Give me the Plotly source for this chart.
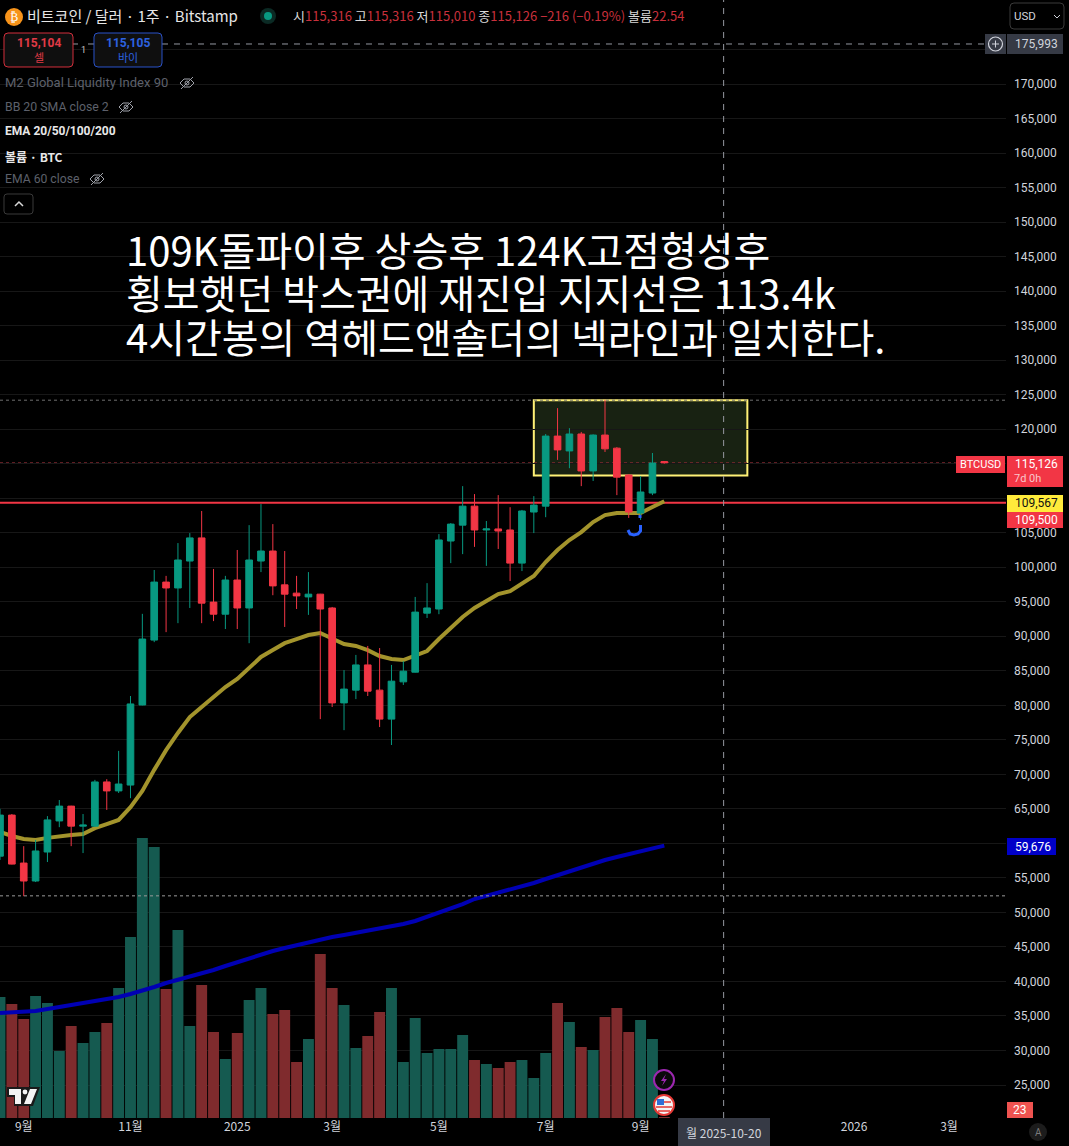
import pandas as pd
import plotly.graph_objects as go

W, H = 1069, 1146
PLOT_RIGHT, PLOT_BOTTOM = 1006, 1118

# weekly candles
dates = pd.date_range('2024-08-19', periods=57, freq='7D')
opens = [58150, 64100, 57150, 54550, 58750, 63250, 65400, 62500, 62500, 68900,
         67600, 68450, 80050, 89450, 97850, 97000, 100900, 104250, 94950, 93200,
         98150, 94100, 100900, 102350, 97450, 96250, 95700, 96100, 94100, 80350,
         82200, 85850, 82200, 78000, 83400, 84800, 93350, 93950, 103800, 106100,
         108850, 105400, 105550, 105400, 100600, 108000, 108850, 119000, 116850, 119300,
         113950, 119150, 117250, 113350, 107850, 110750, 115316]
highs = [65000, 64250, 59600, 60500, 63950, 66280, 65450, 64250, 69200, 69300,
         73400, 81350, 93250, 99600, 98750, 103500, 104950, 108150, 99750, 98750,
         102500, 106100, 109150, 106250, 102350, 98750, 99300, 96150, 94250, 85100,
         87300, 88600, 88300, 85850, 86400, 95700, 97700, 104800, 106400, 111750,
         110600, 106700, 110450, 108700, 108300, 110300, 119300, 123050, 120150, 119600,
         119250, 124250, 117400, 113500, 113200, 116550, 115316]
lows = [57600, 56950, 52350, 54400, 57300, 62350, 59600, 58600, 62400, 64850,
        67300, 66550, 80000, 89150, 90600, 91900, 94100, 91900, 92200, 91050,
        91050, 89000, 99300, 95950, 91350, 93950, 93100, 78000, 79750, 76400,
        80900, 81350, 76850, 74250, 82950, 84750, 92650, 93200, 100600, 101900,
        102950, 100200, 102650, 98000, 99450, 104950, 107250, 115550, 114350, 111750,
        112500, 116700, 110450, 107150, 106850, 110450, 115010]
closes = [64100, 57000, 54550, 58900, 63400, 65400, 62500, 62650, 68900, 67600,
          68600, 80200, 89600, 97850, 97000, 101050, 104250, 94800, 93200, 98150,
          94100, 101050, 102350, 97300, 96100, 95850, 96100, 93950, 80350, 82350,
          85850, 82050, 78000, 83500, 84950, 93500, 94100, 103950, 106250, 108850,
          105400, 105550, 105250, 100600, 108150, 109000, 119000, 117000, 119300, 113950,
          119150, 117150, 113050, 108000, 110900, 115100, 115126]
volumes = [7260, 6840, 5940, 7320, 6900, 4020, 5520, 4500, 5160, 5700,
           7800, 10860, 16800, 16260, 7740, 11280, 5520, 7980, 5160, 3540,
           5100, 7080, 7800, 6240, 6480, 3360, 4740, 9840, 7800, 6780,
           4200, 4920, 6360, 7800, 3360, 6000, 3900, 4140, 4140, 4980,
           3480, 3240, 3000, 3360, 3480, 2400, 3900, 6900, 5760, 4260,
           4080, 6060, 6600, 5160, 5880, 4740, 22.54]
ema_gold = [61650, 61070, 60650, 60500, 60800, 61070, 61210, 61355, 62200, 62800,
            63400, 65250, 67600, 70650, 73500, 76000, 78300, 79750, 81200, 82650,
            83810, 85400, 87000, 88000, 89000, 89600, 90180, 90470, 89750, 88880,
            88600, 88000, 87140, 86700, 86560, 87140, 87865, 89600, 91200, 92800,
            94100, 95110, 96120, 96550, 97700, 98730, 100760, 102500, 103950, 105100,
            106550, 107550, 107850, 107850, 107850, 108725, 109567]
ema_blue = [35430, 35570, 35720, 35720, 36010, 36300, 36590, 36875, 37165, 37450,
            37745, 38180, 38615, 39195, 39775, 40210, 40645, 41080, 41660, 42240,
            42820, 43400, 43835, 44415, 44850, 45285, 45720, 46155, 46445, 46730,
            47020, 47310, 47600, 47890, 48325, 48760, 49340, 49920, 50640, 51215,
            51940, 52375, 52810, 53390, 53825, 54260, 54840, 55420, 56000, 56580,
            57150, 57590, 58025, 58460, 58895, 59330, 59676]

price_ticks = list(range(25000, 180000, 5000))
hidden_ticks = [60000, 110000, 115000, 175000]  # sit under the price tags
price_text = [f'{p:,}' if p not in hidden_ticks else '' for p in price_ticks]
date_ticks = ['2024-09-02', '2024-11-04', '2025-01-06', '2025-03-03', '2025-05-05',
              '2025-07-07', '2025-09-01', '2026-01-05', '2026-03-02']
date_text = ['9월', '11월', '2025', '3월', '5월', '7월', '9월', '2026', '3월']

headline = ['109K돌파이후 상승후 124K고점형성후',
            '횡보햇던 박스권에 재진입 지지선은 113.4k',
            '4시간봉의 역헤드앤숄더의 넥라인과 일치한다.']

UP, DOWN = '#089981', '#f23645'
UP_VOL, DOWN_VOL = '#155a50', '#7f2b2d'
TEXT = '#d1d4dc'
FONT = 'Noto Sans CJK KR, Noto Sans, sans-serif'
LABEL_FONT = 'Roboto, Noto Sans CJK KR, sans-serif'
price_range = [20220, 182170]
x_start, x_end = '2024-08-19', '2026-04-04 15:00'


def px(x):
    return x / W


def py(y):
    return 1 - y / H


def label(x, y, text, size=12, color=TEXT, anchor='left', font=LABEL_FONT):
    fig.add_annotation(xref='paper', yref='paper', x=px(x), y=py(y), text=text, showarrow=False,
                       xanchor=anchor, yanchor='middle', font=dict(size=size, color=color, family=font),
                       borderpad=0, borderwidth=0)


def box(x0, y0, x1, y1, fill=None, line=None, width=1):
    fig.add_shape(type='rect', xref='paper', yref='paper', x0=px(x0), x1=px(x1), y0=py(y0), y1=py(y1),
                  fillcolor=fill or 'rgba(0,0,0,0)', line=dict(color=line or 'rgba(0,0,0,0)', width=width),
                  layer='above')


def round_box(x0, y0, x1, y1, r=4, fill=None, line=None, width=1):
    p = lambda x, y: f'{px(x):.5f},{py(y):.5f}'
    d = (f'M{p(x0 + r, y0)} L{p(x1 - r, y0)} Q{p(x1, y0)} {p(x1, y0 + r)} L{p(x1, y1 - r)} '
         f'Q{p(x1, y1)} {p(x1 - r, y1)} L{p(x0 + r, y1)} Q{p(x0, y1)} {p(x0, y1 - r)} '
         f'L{p(x0, y0 + r)} Q{p(x0, y0)} {p(x0 + r, y0)} Z')
    fig.add_shape(type='path', xref='paper', yref='paper', path=d, fillcolor=fill or 'rgba(0,0,0,0)',
                  line=dict(color=line or 'rgba(0,0,0,0)', width=width), layer='above')


def circle(cx, cy, r, fill=None, line=None, width=1):
    fig.add_shape(type='circle', xref='paper', yref='paper', x0=px(cx - r), x1=px(cx + r),
                  y0=py(cy + r), y1=py(cy - r), fillcolor=fill or 'rgba(0,0,0,0)',
                  line=dict(color=line or 'rgba(0,0,0,0)', width=width), layer='above')


def path(points, color=None, width=1, fill=None, close=False, dash=None):
    d = 'M' + ' L'.join(f'{px(x):.5f},{py(y):.5f}' for x, y in points) + (' Z' if close else '')
    fig.add_shape(type='path', xref='paper', yref='paper', path=d, fillcolor=fill or 'rgba(0,0,0,0)',
                  line=dict(color=color or 'rgba(0,0,0,0)', width=width, dash=dash), layer='above')


def eye_off(cx, cy):
    path([(cx - 7, cy), (cx - 3, cy - 4), (cx + 3, cy - 4), (cx + 7, cy), (cx + 3, cy + 4), (cx - 3, cy + 4)],
         color='#a0a3ab', close=True)
    circle(cx, cy, 2, line='#a0a3ab')
    path([(cx - 6, cy + 6), (cx + 6, cy - 6)], color='#a0a3ab')


fig = go.Figure()

vol_colors = [DOWN_VOL if c < o else UP_VOL for o, c in zip(opens, closes)]
fig.add_trace(go.Bar(x=dates, y=volumes, marker=dict(color=vol_colors, line_width=0), yaxis='y'))
fig.add_trace(go.Scatter(x=dates, y=ema_gold, mode='lines', yaxis='y2',
                         line=dict(color='#a3942c', width=4)))
fig.add_trace(go.Scatter(x=dates, y=ema_blue, mode='lines', yaxis='y2',
                         line=dict(color='#0000b4', width=4)))
fig.add_trace(go.Candlestick(x=dates, open=opens, high=highs, low=lows, close=closes, yaxis='y3',
                             whiskerwidth=0,
                             increasing=dict(line=dict(color=UP, width=1), fillcolor=UP),
                             decreasing=dict(line=dict(color=DOWN, width=1), fillcolor=DOWN)))

fig.update_layout(
    width=W, height=H, margin=dict(l=0, r=0, t=0, b=0),
    paper_bgcolor='#000000', plot_bgcolor='#000000', showlegend=False,
    bargap=0.08, boxgap=0.2,
    font=dict(family=LABEL_FONT, color=TEXT, size=12),
    xaxis=dict(domain=[0, PLOT_RIGHT / W], range=[x_start, x_end],
               tickmode='array', tickvals=date_ticks, ticktext=date_text, showgrid=False,
               zeroline=False, showline=False, ticks='', rangeslider=dict(visible=False),
               tickfont=dict(size=12, color=TEXT, family=FONT), anchor='y'),
    yaxis=dict(domain=[1 - PLOT_BOTTOM / H, 1], range=[0, 67080], visible=False, showgrid=False),
    yaxis2=dict(domain=[1 - PLOT_BOTTOM / H, 1], range=price_range, overlaying='y', side='right',
                anchor='x', tickmode='array', tickvals=price_ticks, ticktext=price_text,
                showgrid=True, gridcolor='#171717', gridwidth=1, zeroline=False, showline=False,
                ticks='', ticklabelstandoff=7, tickfont=dict(size=12, color=TEXT)),
    yaxis3=dict(domain=[1 - PLOT_BOTTOM / H, 1], range=price_range, overlaying='y', visible=False,
                showgrid=False),
)

# levels and the marked range
fig.add_shape(type='rect', xref='x', yref='y2', x0='2025-06-30', x1='2025-11-03', y0=113300, y1=124200,
              fillcolor='rgba(120,170,90,0.2)', line=dict(color='#fff176', width=2), layer='below')
fig.add_shape(type='line', xref='x', yref='y2', x0=x_start, x1=x_end, y0=109350, y1=109350,
              line=dict(color=DOWN, width=2), layer='below')
fig.add_shape(type='line', xref='x', yref='y2', x0=x_start, x1=x_end, y0=124200, y1=124200,
              line=dict(color='#6f6f6f', width=1, dash='dot'), layer='below')
fig.add_shape(type='line', xref='x', yref='y2', x0=x_start, x1=x_end, y0=52400, y1=52400,
              line=dict(color='#9a9a9a', width=1, dash='dot'), layer='above')
fig.add_shape(type='line', xref='x', yref='y2', x0=x_start, x1='2026-03-06', y0=115126, y1=115126,
              line=dict(color='#8c2a33', width=1, dash='dot'), layer='below')
# crosshair
fig.add_shape(type='line', xref='x', yref='paper', x0='2025-10-20', x1='2025-10-20', y0=py(PLOT_BOTTOM), y1=1,
              line=dict(color='#9598a1', width=1, dash='6px,6px'), layer='above')
path([(162, 44), (985, 44)], color='#9598a1', dash='6px,6px')
path([(73, 44), (78, 44)], color='#9598a1')
path([(88, 44), (94, 44)], color='#9598a1')

# blue hand-drawn mark under the low
path([(640, 515), (640, 518)], color='#2962ff', width=3)
path([(628, 530), (630, 534), (634, 535), (638, 534), (640.5, 531), (640.5, 525)], color='#2962ff', width=3)

# headline
for y, line in zip([249, 292, 336], headline):
    label(126, y, line, size=40, color='#ffffff', font=FONT)

# header row
circle(14, 17, 9, fill='#f7931a')
label(14, 17, '₿', size=12, color='#ffffff', anchor='center', font='DejaVu Sans')
label(27, 16, '비트코인 / 달러 · 1주 · Bitstamp', size=15, color='#e6e6e6', font=FONT)
circle(268, 16, 8, fill='#0b2a24')
circle(268, 16, 4, fill=UP)
label(293, 16, "시<span style='color:#c9303c'>115,316</span> 고<span style='color:#c9303c'>115,316</span> "
               "저<span style='color:#c9303c'>115,010</span> 종<span style='color:#c9303c'>115,126 −216 (−0.19%)</span> "
               "볼륨<span style='color:#c9303c'>22.54</span>", size=13, color='#d8d8d8', font=FONT)

# order buttons
round_box(4, 33, 73, 67, fill='#0f0f0f', line='#d32f3c')
label(38.5, 43, '<b>115,104</b>', size=12, color='#e03a46', anchor='center')
label(38.5, 57, '셀', size=11, color='#e03a46', anchor='center', font=FONT)
round_box(94, 33, 162, 67, fill='#0f0f0f', line='#2a52c9')
label(128, 43, '<b>115,105</b>', size=12, color='#2d62e0', anchor='center')
label(128, 57, '바이', size=11, color='#2d62e0', anchor='center', font=FONT)
label(83, 50, '1', size=9, color='#c8c8c8', anchor='center')

# indicator legend
label(5, 83, 'M2 Global Liquidity Index 90', size=13, color='#5d606b')
eye_off(187, 83)
label(5, 107, 'BB 20 SMA close 2', size=12.3, color='#5d606b')
eye_off(126, 107)
label(5, 131, '<b>EMA 20/50/100/200</b>', size=12, color='#e8e8e8')
label(5, 156, '<b>볼륨 · BTC</b>', size=12, color='#e8e8e8', font=FONT)
label(5, 179, 'EMA 60 close', size=12.2, color='#5d606b')
eye_off(97, 179)
round_box(4, 194, 33, 214, r=3, line='#3a3a3a')
path([(15, 206), (19, 202), (23, 206)], color='#d8d8d8', width=1.5)

# currency selector and crosshair price
round_box(1010, 3, 1064, 29, fill='#000000', line='#3a3a3a')
label(1014, 16, 'USD', size=11.5, color=TEXT)
path([(1054, 15), (1057, 18), (1060, 15)], color=TEXT)
box(985, 34, 1006, 54, fill='#363a45')
circle(995.5, 44, 7, line='#d1d4dc', width=1.2)
path([(992, 44), (999, 44)], color='#d1d4dc')
path([(995.5, 40.5), (995.5, 47.5)], color='#d1d4dc')
box(1007, 34, 1063, 54, fill='#363a45')
label(1036, 44, '175,993', size=12, color=TEXT, anchor='center')

# price tags on the axis
box(956, 456, 1005, 473, fill=DOWN)
label(980.5, 464.5, 'BTCUSD', size=11, color='#ffffff', anchor='center')
box(1007, 456, 1063, 487, fill=DOWN)
label(1036, 464, '115,126', size=12, color='#ffffff', anchor='center')
label(1027, 478, '7d 0h', size=11, color='#f9c6cb', anchor='center')
box(1007, 495, 1063, 512, fill='#ffeb3b')
label(1036, 503, '109,567', size=12, color='#111111', anchor='center')
box(1007, 512, 1063, 528, fill=DOWN)
label(1036, 520, '109,500', size=12, color='#ffffff', anchor='center')
box(1007, 838, 1056, 855, fill='#0000c8')
label(1033, 846.5, '59,676', size=12, color='#ffffff', anchor='center')
box(1007, 1102, 1033, 1118, fill='#ef5350')
label(1020, 1110, '23', size=12, color='#ffffff', anchor='center')

# crosshair date and auto-scale button
box(678, 1118, 770, 1146, fill='#363a45')
label(724, 1132, '월 2025-10-20', size=12, color=TEXT, anchor='center', font=FONT)
circle(1038, 1132, 9, fill='#1c1c1c')
label(1038, 1132, 'A', size=10, color='#7a7a7a', anchor='center')

# event icons
circle(664, 1080, 10, fill='#0a0a0a', line='#9c27b0', width=2)
path([(666, 1074), (661, 1081), (664, 1081), (662, 1086), (667, 1079), (664, 1079)], fill='#9c27b0', close=True)
circle(664, 1105, 10, fill='#f4f4f4', line='#e53935', width=2)
path([(657, 1102), (671, 1102)], color='#e53935', width=1.5)
path([(656, 1107), (672, 1107)], color='#e53935', width=1.5)
path([(658, 1111), (670, 1111)], color='#e53935', width=1.5)
box(657, 1099, 664, 1105, fill='#2f6fd6')

# chart logo
path([(7, 1087), (40, 1087), (33, 1106), (14, 1106), (14, 1097), (7, 1097)], fill='#1a1a1a', close=True)
path([(9, 1089), (21, 1089), (21, 1104), (15, 1104), (15, 1095), (9, 1095)], fill='#f4f4f4', close=True)
circle(25, 1092, 2.4, fill='#f4f4f4')
path([(30, 1089), (37, 1089), (31, 1104), (24, 1104)], fill='#f4f4f4', close=True)

fig.write_html('out.html', config={'displayModeBar': False},
               post_script="document.body.style.margin='0';document.body.style.background='#000';")
